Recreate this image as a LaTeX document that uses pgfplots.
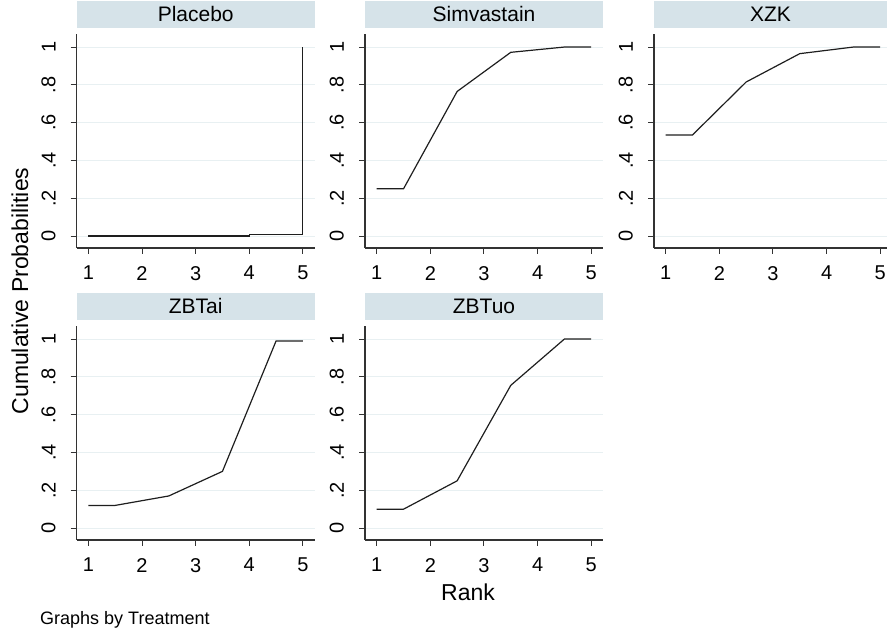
\documentclass[border=0pt]{standalone}
\usepackage{fontspec}
\setmainfont{Liberation Sans}
\usepackage{pgfplots}
\pgfplotsset{compat=1.18}
\definecolor{stripbg}{RGB}{214,227,233}
\definecolor{gridc}{RGB}{232,240,242}
\definecolor{linec}{RGB}{30,30,30}
\pgfplotsset{
 panel/.style={
  scale only axis, width=238bp, height=214bp,
  xmin=0.782, xmax=5.22, ymin=-0.063, ymax=1.069,
  axis x line=bottom, axis y line=left,
  axis line style={-, line width=1.1bp, color=black!80},
  xtick={1,2,3,4,5}, ytick={0,0.2,0.4,0.6,0.8,1}, yticklabels={0,.2,.4,.6,.8,1},
  tick align=outside, major tick length=6bp, tick style={line width=1bp, black!80},
  ymajorgrids, grid style={gridc, line width=1bp},
  /pgf/number format/assume math mode=true,
  ticklabel style={font=\fontsize{20bp}{24bp}\selectfont, inner sep=0pt},
  yticklabel style={rotate=90, anchor=south, yshift=15bp},
  xticklabel style={anchor=north, yshift=-12bp},
  title style={at={(rel axis cs:0.5,1)}, anchor=south, yshift=0pt, fill=stripbg,
    minimum width=238bp, minimum height=27bp, inner sep=0pt,
    font=\fontsize{21bp}{25bp}\selectfont},
 },
 curve/.style={linec, line width=1.2bp, no marks},
}
\begin{document}
\begin{tikzpicture}
\useasboundingbox (0,0) rectangle (887bp,633bp);
% Row 1
\begin{axis}[panel, at={(76.7bp,385bp)}, anchor=south west, title={Placebo}]
\addplot[curve] coordinates {(1,0) (4,0) (4,0.008) (4.99,0.008) (4.99,1)};
\end{axis}
\begin{axis}[panel, at={(365bp,385bp)}, anchor=south west, title={Simvastain}]
\addplot[curve] coordinates {(1,0.25) (1.5,0.25) (2.5,0.765) (3.5,0.972) (4.5,1.0) (5,1.0)};
\end{axis}
\begin{axis}[panel, at={(654bp,385bp)}, anchor=south west, title={XZK},
  width=233bp, xmax=5.127, title style={minimum width=233bp}]
\addplot[curve] coordinates {(1,0.535) (1.5,0.535) (2.5,0.815) (3.5,0.965) (4.5,1.0) (5,1.0)};
\end{axis}
% Row 2
\begin{axis}[panel, at={(76.7bp,93bp)}, anchor=south west, title={ZBTai}]
\addplot[curve] coordinates {(1,0.12) (1.5,0.12) (2.5,0.17) (3.5,0.30) (4.5,0.99) (5,0.99)};
\end{axis}
\begin{axis}[panel, at={(365bp,93bp)}, anchor=south west, title={ZBTuo}]
\addplot[curve] coordinates {(1,0.10) (1.5,0.10) (2.5,0.25) (3.5,0.755) (4.5,1.0) (5,1.0)};
\end{axis}
\node[rotate=90, font=\fontsize{23bp}{27bp}\selectfont] at (20bp,342bp) {Cumulative Probabilities};
\node[font=\fontsize{23bp}{27bp}\selectfont] at (468bp,41bp) {Rank};
\node[anchor=west, font=\fontsize{18bp}{22bp}\selectfont, inner sep=0pt] at (40bp,13bp) {Graphs by Treatment};
\end{tikzpicture}
\end{document}
